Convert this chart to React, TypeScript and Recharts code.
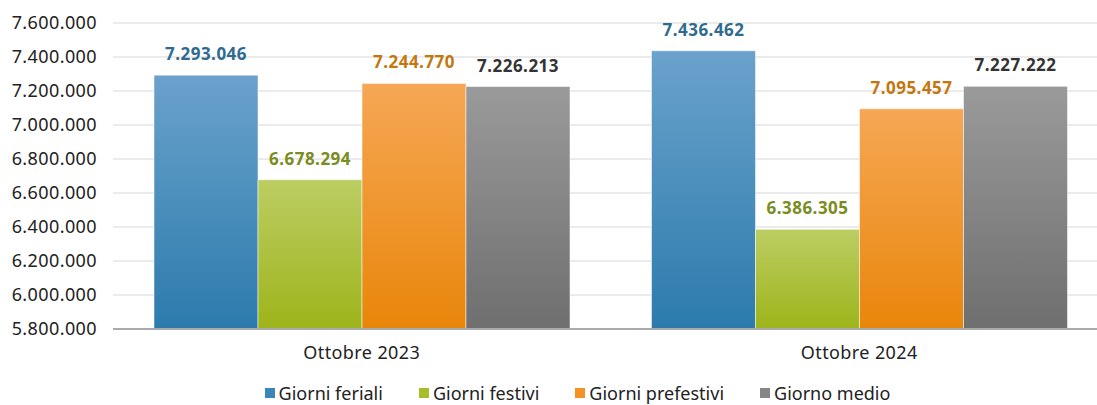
import React from 'react';
import { BarChart, Bar, XAxis, YAxis, CartesianGrid, LabelList, Legend } from 'recharts';

const categories = ['Ottobre 2023', 'Ottobre 2024'];
const feriali = [7293046, 7436462];
const festivi = [6678294, 6386305];
const prefestivi = [7244770, 7095457];
const medio = [7226213, 7227222];
const yTicks = [5800000, 6000000, 6200000, 6400000, 6600000, 6800000, 7000000, 7200000, 7400000, 7600000];

const series = [
  { key: 'feriali', name: 'Giorni feriali', top: '#6aa2cb', bottom: '#2c7bad', label: '#2f6b8f', icon: '#3a86b8' },
  { key: 'festivi', name: 'Giorni festivi', top: '#bccd63', bottom: '#9db41a', label: '#7a8c22', icon: '#a8bd2c' },
  { key: 'prefestivi', name: 'Giorni prefestivi', top: '#f6a755', bottom: '#e8860a', label: '#c4770f', icon: '#f39325' },
  { key: 'medio', name: 'Giorno medio', top: '#9a9a9a', bottom: '#6f6f6f', label: '#333333', icon: '#858585' },
];

const data = categories.map((name, i) => ({
  name,
  feriali: feriali[i],
  festivi: festivi[i],
  prefestivi: prefestivi[i],
  medio: medio[i],
}));

// italian thousands separator
const fmt = (v: number) => String(Math.round(v)).replace(/\B(?=(\d{3})+(?!\d))/g, '.');

const FONT = "'Noto Sans', 'DejaVu Sans', sans-serif";

const LegendContent = () => (
  <div
    style={{
      display: 'flex',
      justifyContent: 'center',
      alignItems: 'center',
      paddingLeft: 47,
      paddingTop: 5,
      lineHeight: '18px',
      fontFamily: FONT,
      fontSize: 18,
      color: '#222',
    }}
  >
    {series.map((s, i) => (
      <div key={s.key} style={{ display: 'flex', alignItems: 'center', marginRight: i < series.length - 1 ? 36 : 0 }}>
        <span style={{ display: 'inline-block', width: 10, height: 10, background: s.icon, marginRight: 4 }} />
        <span>{s.name}</span>
      </div>
    ))}
  </div>
);

export default function App() {
  return (
    <div style={{ position: 'absolute', left: 0, top: 0, width: 1097, height: 405, overflow: 'hidden', background: '#fff' }}>
      <BarChart
        width={1108}
        height={405}
        data={data}
        margin={{ top: 23, right: 0, left: 0, bottom: 0 }}
        barCategoryGap={41}
        barGap={0}
      >
        <defs>
          {series.map((s) => (
            <linearGradient key={s.key} id={`grad-${s.key}`} x1="0" y1="0" x2="0" y2="1">
              <stop offset="0%" stopColor={s.top} />
              <stop offset="100%" stopColor={s.bottom} />
            </linearGradient>
          ))}
        </defs>
        <CartesianGrid vertical={false} stroke="#e4e4e4" strokeWidth={1.5} />
        <XAxis
          dataKey="name"
          height={50}
          tickLine={false}
          axisLine={{ stroke: '#aaaaaa', strokeWidth: 2 }}
          tickMargin={11}
          tick={{ fill: '#222', fontSize: 18, fontFamily: FONT, letterSpacing: 0.4 }}
        />
        <YAxis
          width={113}
          domain={[5800000, 7600000]}
          ticks={yTicks}
          interval={0}
          allowDataOverflow
          tickLine={false}
          axisLine={false}
          tickSize={0}
          tickMargin={16}
          tickFormatter={fmt}
          tick={{ fill: '#222', fontSize: 18, fontFamily: FONT, letterSpacing: 0.4 }}
        />
        <Legend verticalAlign="bottom" content={<LegendContent />} wrapperStyle={{ height: 26 }} />
        {series.map((s) => (
          <Bar
            key={s.key}
            dataKey={s.key}
            name={s.name}
            fill={`url(#grad-${s.key})`}
            stroke="#ffffff"
            strokeOpacity={0.5}
            strokeWidth={1}
            isAnimationActive={false}
          >
            <LabelList
              dataKey={s.key}
              position="top"
              offset={15}
              formatter={(v: any) => fmt(Number(v))}
              style={{ fill: s.label, fontSize: 17, fontWeight: 700, fontFamily: FONT, letterSpacing: 0.5 }}
            />
          </Bar>
        ))}
      </BarChart>
    </div>
  );
}
